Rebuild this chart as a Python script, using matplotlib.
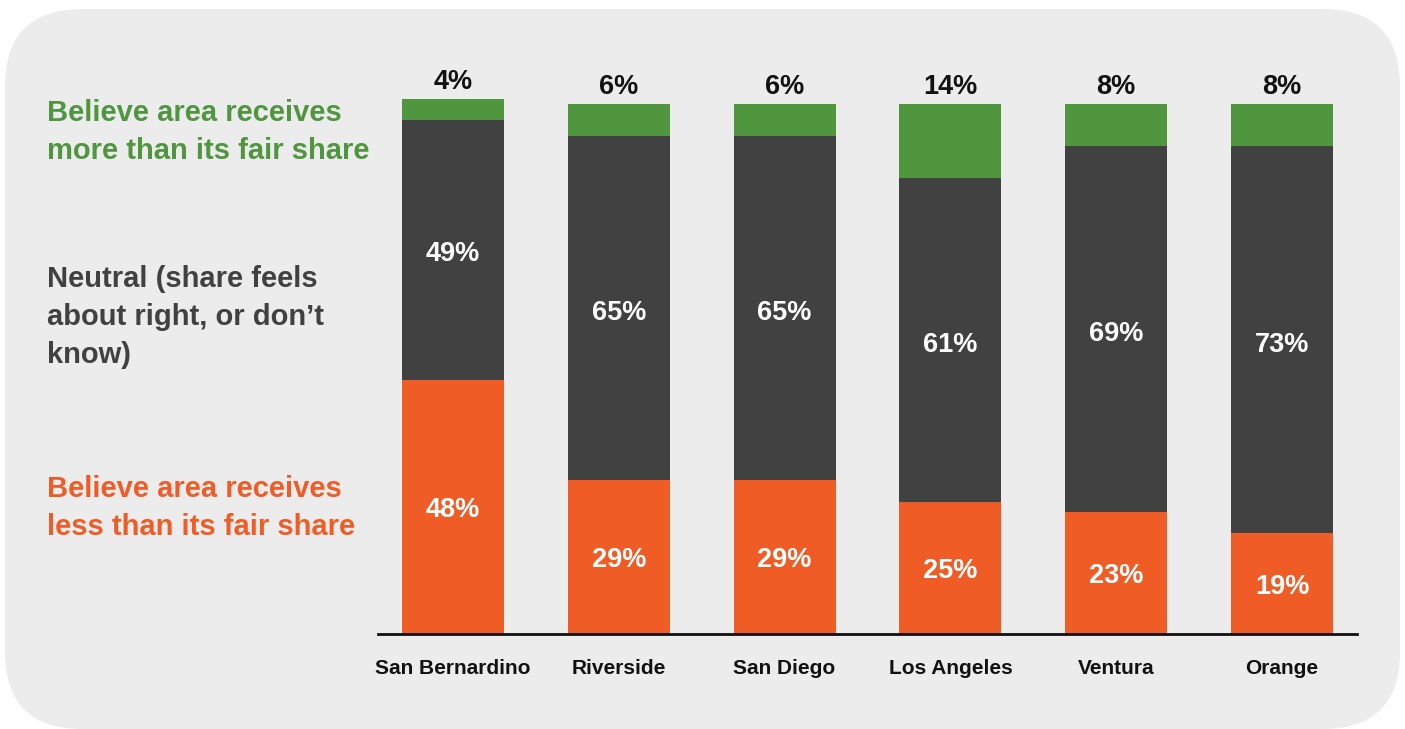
import matplotlib
matplotlib.use("Agg")
import matplotlib.pyplot as plt
from matplotlib.patches import FancyBboxPatch

categories = ["San Bernardino", "Riverside", "San Diego", "Los Angeles", "Ventura", "Orange"]
less_share = [48, 29, 29, 25, 23, 19]
neutral = [49, 65, 65, 61, 69, 73]
more_share = [4, 6, 6, 14, 8, 8]

C_GREEN = "#4f963f"
C_DARK = "#414141"
C_ORANGE = "#f05c25"
C_BG = "#ececec"

plt.rcParams['font.family'] = ['Liberation Sans', 'DejaVu Sans']

fig = plt.figure(figsize=(14.05, 7.29), dpi=100)
fig.patch.set_facecolor("white")

bg = FancyBboxPatch((5 / 1405, 0.0), 1395 / 1405, (729 - 9) / 729,
                    boxstyle="round,pad=0,rounding_size=0.055",
                    transform=fig.transFigure, facecolor=C_BG, edgecolor="none",
                    mutation_aspect=1405 / 729, zorder=-10)
fig.patches.append(bg)

ax = fig.add_axes([378 / 1405, 95 / 729, 979 / 1405, 583 / 729])
ax.set_facecolor("none")
ax.set_zorder(5)
x = list(range(len(categories)))
w = 0.615
ax.bar(x, less_share, w, color=C_ORANGE)
ax.bar(x, neutral, w, bottom=less_share, color=C_DARK)
bottoms2 = [a + b for a, b in zip(less_share, neutral)]
ax.bar(x, more_share, w, bottom=bottoms2, color=C_GREEN)

ax.set_xlim(-0.452, 5.452)
ax.set_ylim(0, 110)
for s in ["top", "right", "left"]:
    ax.spines[s].set_visible(False)
ax.spines["bottom"].set_linewidth(2)
ax.spines["bottom"].set_color("#111111")
ax.set_yticks([])
ax.set_xticks(x)
ax.set_xticklabels(categories, fontsize=15, fontweight="bold", color="#111111")
ax.tick_params(axis="x", length=0, pad=18)

pfs = 19.5
for i in x:
    ax.text(i, less_share[i] / 2 - 1.9, f"{less_share[i]}%", ha="center", va="baseline",
            color="white", fontsize=pfs, fontweight="bold")
    ax.text(i, less_share[i] + neutral[i] / 2 - 2.2, f"{neutral[i]}%", ha="center",
            va="baseline", color="white", fontsize=pfs, fontweight="bold")
    ax.text(i, bottoms2[i] + more_share[i] + 1.8, f"{more_share[i]}%", ha="center",
            va="baseline", color="#111111", fontsize=pfs, fontweight="bold")

fs = 21
ls = 1.45
fig.text(47 / 1405, 1 - 132 / 729, "Believe area receives\nmore than its fair share",
         ha="left", va="center", color=C_GREEN, fontsize=fs, fontweight="bold",
         linespacing=ls)
fig.text(47 / 1405, 1 - 317 / 729, "Neutral (share feels\nabout right, or don\u2019t\nknow)",
         ha="left", va="center", color=C_DARK, fontsize=fs, fontweight="bold",
         linespacing=ls)
fig.text(47 / 1405, 1 - 508 / 729, "Believe area receives\nless than its fair share",
         ha="left", va="center", color=C_ORANGE, fontsize=fs, fontweight="bold",
         linespacing=ls)

fig.savefig("out.png", dpi=100, facecolor=fig.get_facecolor())
